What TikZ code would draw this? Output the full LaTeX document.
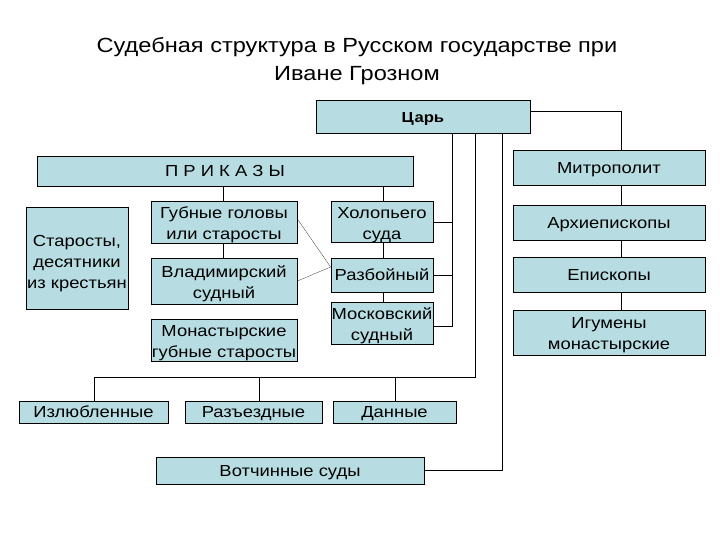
\documentclass[tikz,border=0pt]{standalone}
\usepackage{fontspec}
\setmainfont{Liberation Sans}[FakeStretch=1.15]
\usetikzlibrary{positioning}
\definecolor{boxfill}{RGB}{183,221,226}

\begin{document}
\begin{tikzpicture}[x=1pt,y=-1pt,
            court/.style={draw,line width=0.8pt,rectangle,fill=boxfill,inner sep=0pt, minimum height=22pt},
            single/.style={text height=13.5pt, text depth=2pt},
            multi/.style={execute at begin node={\rule{0pt}{#1}}},
            multi/.default=38pt,
            every node/.style={align=center, font=\fontsize{16}{21}\selectfont},
            link/.style={line width=0.8pt}
  ]
  \useasboundingbox[fill=white] (0,0) rectangle (720,540);

  % title
  \node[font=\fontsize{20.5}{28}\selectfont] (title) at (357,61) {Судебная структура в Русском государстве при\\Иване Грозном};

  % top
  \node[court, single, minimum width=214pt, minimum height=33pt, font=\bfseries\fontsize{14.5}{20}\selectfont] (tsar) at (423,116.5) {Царь};
  \node[court, single, minimum width=376pt, minimum height=30pt] (prikazy) at (225,171) {П Р И К А З Ы};

  % church
  \node[court, single, minimum width=192pt, minimum height=35pt] (mitr) at (609,168) {Митрополит};
  \node[court, single, minimum width=192pt, minimum height=35pt] (arkh) at (609,222.5) {Архиепископы};
  \node[court, single, minimum width=192pt, minimum height=35pt] (episk) at (609,274.5) {Епископы};
  \node[court, multi, minimum width=192pt, minimum height=45pt] (igum) at (609,332.5) {Игумены\\монастырские};

  % prikazy
  \node[court, multi=64pt, minimum width=102pt, minimum height=102pt] (starosty) at (77,258) {Старосты,\\десятники\\из крестьян};
  \node[court, multi, minimum width=146pt, minimum height=39pt] (gubnye) at (224,222.5) {Губные головы\\или старосты};
  \node[court, multi, minimum width=146pt, minimum height=46pt] (vladim) at (224,281) {Владимирский\\судный};
  \node[court, multi, minimum width=146pt, minimum height=39pt] (monast) at (224,340.5) {Монастырские\\губные старосты};
  \node[court, multi, minimum width=102pt, minimum height=38pt] (kholop) at (382,222) {Холопьего\\суда};
  \node[court, single, minimum width=102pt, minimum height=34pt] (razb) at (382,275) {Разбойный};
  \node[court, multi, minimum width=102pt, minimum height=39pt] (mosk) at (382,323.5) {Московский\\судный};

  % bottom
  \node[court, single, minimum width=149pt] (izl) at (93.5,412) {Излюбленные};
  \node[court, single, minimum width=137pt] (razyezd) at (253.5,412) {Разъездные};
  \node[court, single, minimum width=123pt] (dannye) at (394.5,412) {Данные};
  \node[court, single, minimum width=268pt, minimum height=27pt] (votch) at (290,470.5) {Вотчинные суды};

  \coordinate (l1) at (452,326);
  \coordinate (l2) at (475,377);
  \coordinate (l3) at (502,470.5);

  % lines
  \draw[link] (tsar.east |- 0,111) -| (mitr.north -| 621,0);
  \draw[link] (mitr.south -| 621,0) -- (arkh.north -| 621,0);
  \draw[link] (arkh.south -| 621,0) -- (episk.north -| 621,0);
  \draw[link] (episk.south -| 621,0) -- (igum.north -| 621,0);

  \draw[link] (tsar.south -| l1) -- (l1) -- (mosk.east |- l1);
  \draw[link] (kholop.east) -- (kholop.east -| l1);
  \draw[link] (razb.east) -- (razb.east -| l1);
  \draw[link] (tsar.south -| l2) -- (l2) -- (94,377) -- (izl.north -| 94,0);
  \draw[link] (razyezd.north -| 259,0) -- (259,377);
  \draw[link] (dannye.north -| 395,0) -- (395,377);
  \draw[link] (tsar.south -| l3) -- (l3) -- (votch.east);

  \draw[link] (prikazy.south -| 223,0) -- (gubnye.north -| 223,0);
  \draw[link] (gubnye.south -| 223,0) -- (vladim.north -| 223,0);
  \draw[link] (prikazy.south -| 383,0) -- (kholop.north -| 383,0);
  \draw[link] (kholop.south -| 383,0) -- (razb.north -| 383,0);
  \draw[link] (razb.south -| 383,0) -- (mosk.north -| 383,0);

  \draw[very thin] (gubnye.east |- 0,219) -- (razb.west |- 0,267);
  \draw[very thin] (vladim.east |- 0,281) -- (razb.west |- 0,267);

\end{tikzpicture}
\end{document}
